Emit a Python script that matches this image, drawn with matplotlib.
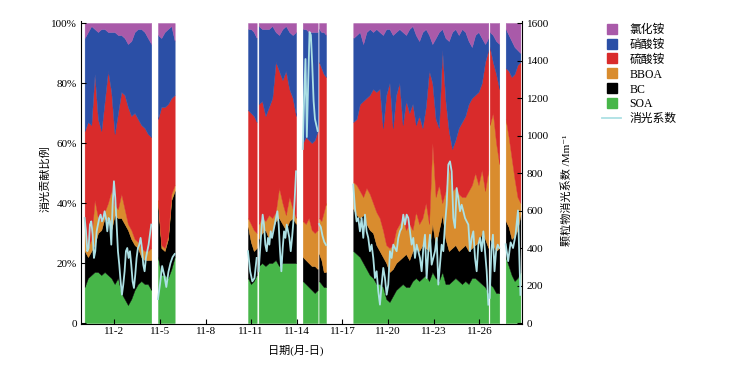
import numpy as np
import matplotlib.pyplot as plt
from matplotlib.lines import Line2D

plt.rcParams['font.family'] = ['Liberation Serif', 'Noto Sans CJK SC', 'DejaVu Sans']
plt.rcParams['font.size'] = 8
plt.rcParams['axes.unicode_minus'] = False

# runs of data (day of November), gaps between them are missing data
seg_start = [0.05, 4.87, 10.79, 11.49, 14.39, 15.46, 17.71, 26.68, 27.73]
seg_end = [4.43, 5.97, 11.36, 13.95, 15.37, 15.92, 26.59, 27.31, 28.70]

# contribution to extinction, %
soa = [
    [12, 15, 16, 17, 17, 16, 17, 16, 15, 13, 15, 10, 8, 6, 8, 11, 13, 14, 13, 13, 11],
    [22, 16, 16, 15, 18, 22],
    [15, 13, 14, 16],
    [19, 20, 19, 20, 20, 21, 19, 20, 20, 20, 20, 20],
    [14, 13, 12, 11, 10, 11],
    [14, 13, 12, 12],
    [24, 23, 22, 20, 18, 16, 15, 13, 13, 12, 8, 7, 9, 11, 12, 13, 12, 12, 14, 15,
     14, 15, 16, 14, 17, 15, 14, 17, 13, 13, 14, 15, 14, 13, 14, 13, 15, 15, 14, 13, 12, 10],
    [13, 12, 10, 10],
    [22, 19, 16, 14, 15, 17],
]
bc = [
    [12, 7, 8, 9, 13, 15, 18, 18, 16, 23, 20, 25, 25, 25, 20, 15, 12, 8, 8, 8, 10],
    [18, 9, 8, 13, 23, 22],
    [17, 14, 10, 9],
    [9, 10, 12, 8, 11, 13, 16, 13, 11, 14, 15, 13],
    [8, 8, 8, 8, 9, 7],
    [9, 8, 5, 5],
    [14, 13, 13, 16, 15, 15, 15, 13, 11, 10, 12, 10, 9, 9, 9, 9, 11, 9, 10, 10,
     10, 11, 9, 10, 16, 11, 17, 19, 15, 11, 11, 11, 10, 12, 12, 11, 10, 11, 13, 17, 16, 15],
    [15, 14, 14, 15],
    [12, 13, 12, 15, 16, 19],
]
bboa = [
    [11, 3, 4, 15, 5, 3, 2, 6, 13, 3, 3, 8, 5, 2, 3, 2, 2, 3, 3, 3, 4],
    [1, 1, 1, 1, 2, 2],
    [3, 6, 7, 5],
    [5, 5, 3, 8, 4, 3, 10, 7, 5, 8, 3, 2],
    [12, 12, 15, 12, 11, 13],
    [12, 13, 20, 23],
    [9, 10, 9, 6, 12, 12, 10, 11, 11, 9, 6, 8, 8, 11, 12, 13, 8, 12, 7, 12,
     9, 9, 15, 9, 27, 16, 15, 4, 16, 28, 19, 19, 19, 17, 16, 20, 21, 24, 19, 21, 16, 26],
    [38, 44, 36, 28],
    [34, 30, 27, 19, 11, 4],
]
sulfate = [
    [29, 42, 38, 42, 33, 30, 37, 44, 33, 24, 32, 34, 38, 39, 38, 42, 41, 41, 41, 39, 37],
    [27, 46, 47, 44, 32, 30],
    [36, 37, 38, 37],
    [40, 39, 35, 36, 40, 50, 39, 41, 48, 36, 37, 34],
    [26, 29, 26, 29, 31, 33],
    [52, 51, 46, 42],
    [20, 22, 29, 32, 30, 33, 38, 40, 43, 34, 50, 55, 39, 45, 47, 31, 43, 37, 42, 29,
     36, 30, 32, 51, 20, 26, 19, 51, 30, 12, 14, 16, 22, 25, 27, 29, 29, 26, 31, 29, 43, 40],
    [26, 17, 23, 25],
    [17, 22, 27, 35, 44, 47],
]
nitrate = [
    [31, 30, 33, 15, 29, 34, 24, 13, 20, 34, 26, 19, 19, 21, 25, 27, 30, 32, 32, 32, 31],
    [28, 23, 25, 25, 24, 18],
    [27, 28, 28, 28],
    [26, 24, 29, 26, 24, 10, 12, 17, 15, 19, 21, 28],
    [38, 36, 36, 37, 36, 33],
    [11, 12, 14, 14],
    [28, 28, 24, 19, 22, 22, 19, 21, 19, 31, 22, 18, 31, 21, 18, 31, 22, 28, 26, 30,
     25, 32, 26, 12, 13, 27, 32, 7, 21, 30, 39, 37, 31, 31, 28, 21, 17, 20, 20, 15, 6, 4],
    [5, 9, 11, 15],
    [13, 12, 12, 9, 5, 3],
]
chloride = [
    [5, 3, 1, 2, 3, 2, 2, 3, 3, 3, 4, 4, 5, 7, 6, 3, 2, 2, 3, 5, 7],
    [4, 5, 3, 2, 1, 6],
    [2, 2, 3, 5],
    [1, 2, 2, 2, 1, 3, 4, 2, 1, 3, 4, 3],
    [2, 2, 3, 3, 3, 3],
    [2, 3, 3, 4],
    [5, 4, 3, 7, 3, 2, 3, 2, 3, 4, 2, 2, 4, 3, 2, 3, 4, 2, 1, 4,
     6, 3, 2, 4, 7, 5, 3, 2, 5, 6, 3, 2, 4, 2, 3, 6, 8, 4, 3, 5, 7, 5],
    [3, 4, 6, 7],
    [2, 4, 6, 8, 9, 10],
]
# particle extinction coefficient, Mm-1
bext = [
    [560, 489, 383, 400, 525, 542, 471, 347, 383, 489, 525, 560, 578, 542, 560, 596, 560,
     489, 560, 542, 418, 631, 756, 667, 525, 383, 311, 222, 151, 205, 276, 383, 400, 347,
     383, 311, 222, 187, 258, 347, 400, 418, 454, 400, 311, 276, 347, 383, 418, 471, 525],
    [128, 208, 304, 256, 192, 272, 320, 352, 368],
    [383, 276, 222, 240, 347],
    [276, 383, 489, 578, 525, 418, 383, 454, 418, 489, 454, 489, 525, 560, 596, 525, 383,
     276, 400, 489, 454, 525, 489, 454, 383, 454, 542, 667, 809],
    [928, 1200, 1408, 992, 1280, 1552, 1536, 1376, 1184, 1088, 1056, 1024],
    [528, 512, 464, 432, 416],
    [738, 614, 542, 560, 489, 560, 454, 578, 489, 454, 383, 418, 347, 240, 276, 169, 98,
     205, 294, 240, 151, 205, 383, 347, 418, 400, 383, 454, 489, 507, 578, 525, 578, 560,
     489, 418, 454, 347, 418, 383, 347, 276, 400, 471, 240, 383, 471, 311, 347, 383, 454,
     205, 311, 418, 383, 525, 631, 845, 862, 809, 560, 507, 720, 667, 596, 631, 596, 560,
     542, 525, 383, 454, 489, 347, 276, 418, 454, 383, 489, 383, 276, 98],
    [134, 383, 471, 276, 383, 418, 400],
    [420, 330, 430, 400, 470, 600, 150],
]

names = ['SOA', 'BC', 'BBOA', '硫酸铵', '硝酸铵', '氯化铵']
colors = ['#47b649', '#000000', '#d98c2e', '#d92b2b', '#2b4fa6', '#a95aa9']
line_color = '#ace0e4'

days = [2, 5, 8, 11, 14, 17, 20, 23, 26]
day_labels = ['11-%d' % d for d in days]

fig = plt.figure(figsize=(7.29, 3.65), dpi=100)
ax = fig.add_axes([0.1115, 0.1123, 0.6045, 0.831])
ax2 = ax.twinx()

for i in range(len(seg_start)):
    x = np.linspace(seg_start[i], seg_end[i], len(soa[i]))
    ys = np.array([soa[i], bc[i], bboa[i], sulfate[i], nitrate[i], chloride[i]], float)
    ys = ys / ys.sum(axis=0)
    ax.stackplot(x, ys, colors=colors, edgecolor='face', linewidth=0.3)
    xl = np.linspace(seg_start[i], seg_end[i], len(bext[i]))
    ax2.plot(xl, bext[i], color=line_color, lw=1.3)

ax.set_xlim(-0.17, 28.8)
ax.set_ylim(-0.0033, 1.0077)
ax2.set_ylim(-0.0033 * 1600, 1.0077 * 1600)

ax.set_xticks(days)
ax.set_xticklabels(day_labels)
ax.set_yticks([0, 0.2, 0.4, 0.6, 0.8, 1.0])
ax.set_yticklabels(['0', '20%', '40%', '60%', '80%', '100%'])
ax2.set_yticks(range(0, 1601, 200))

ax.tick_params(direction='in', length=3.5, width=0.8)
ax.tick_params(axis='y', pad=3)
ax.tick_params(axis='x', pad=2.5)
ax2.tick_params(direction='in', length=3.5, width=0.8, pad=3.5)

for s in ['top', 'right']:
    ax.spines[s].set_visible(False)
for s in ['top', 'left', 'bottom']:
    ax2.spines[s].set_visible(False)
for a in (ax, ax2):
    for s in a.spines.values():
        s.set_linewidth(0.8)

ax.set_ylabel('消光贡献比例')
ax.yaxis.set_label_coords(-0.070, 0.48)
ax2.set_ylabel('颗粒物消光系数 /Mm⁻¹')
ax2.yaxis.set_label_coords(1.090, 0.44)
ax.set_xlabel('日期(月-日)')
ax.xaxis.set_label_coords(0.486, -0.07)

handles = [Line2D([], [], marker='s', ls='none', color=c, markersize=7)
           for c in colors[::-1]]
handles.append(Line2D([], [], color=line_color, lw=1.3))
labels = names[::-1] + ['消光系数']
fig.legend(handles, labels, loc='upper left', bbox_to_anchor=(0.826, 0.935),
           frameon=False, fontsize=8.5, handlelength=1.6, handletextpad=0.7,
           labelspacing=0.25, borderpad=0, borderaxespad=0)

fig.savefig('out.png', dpi=100)
